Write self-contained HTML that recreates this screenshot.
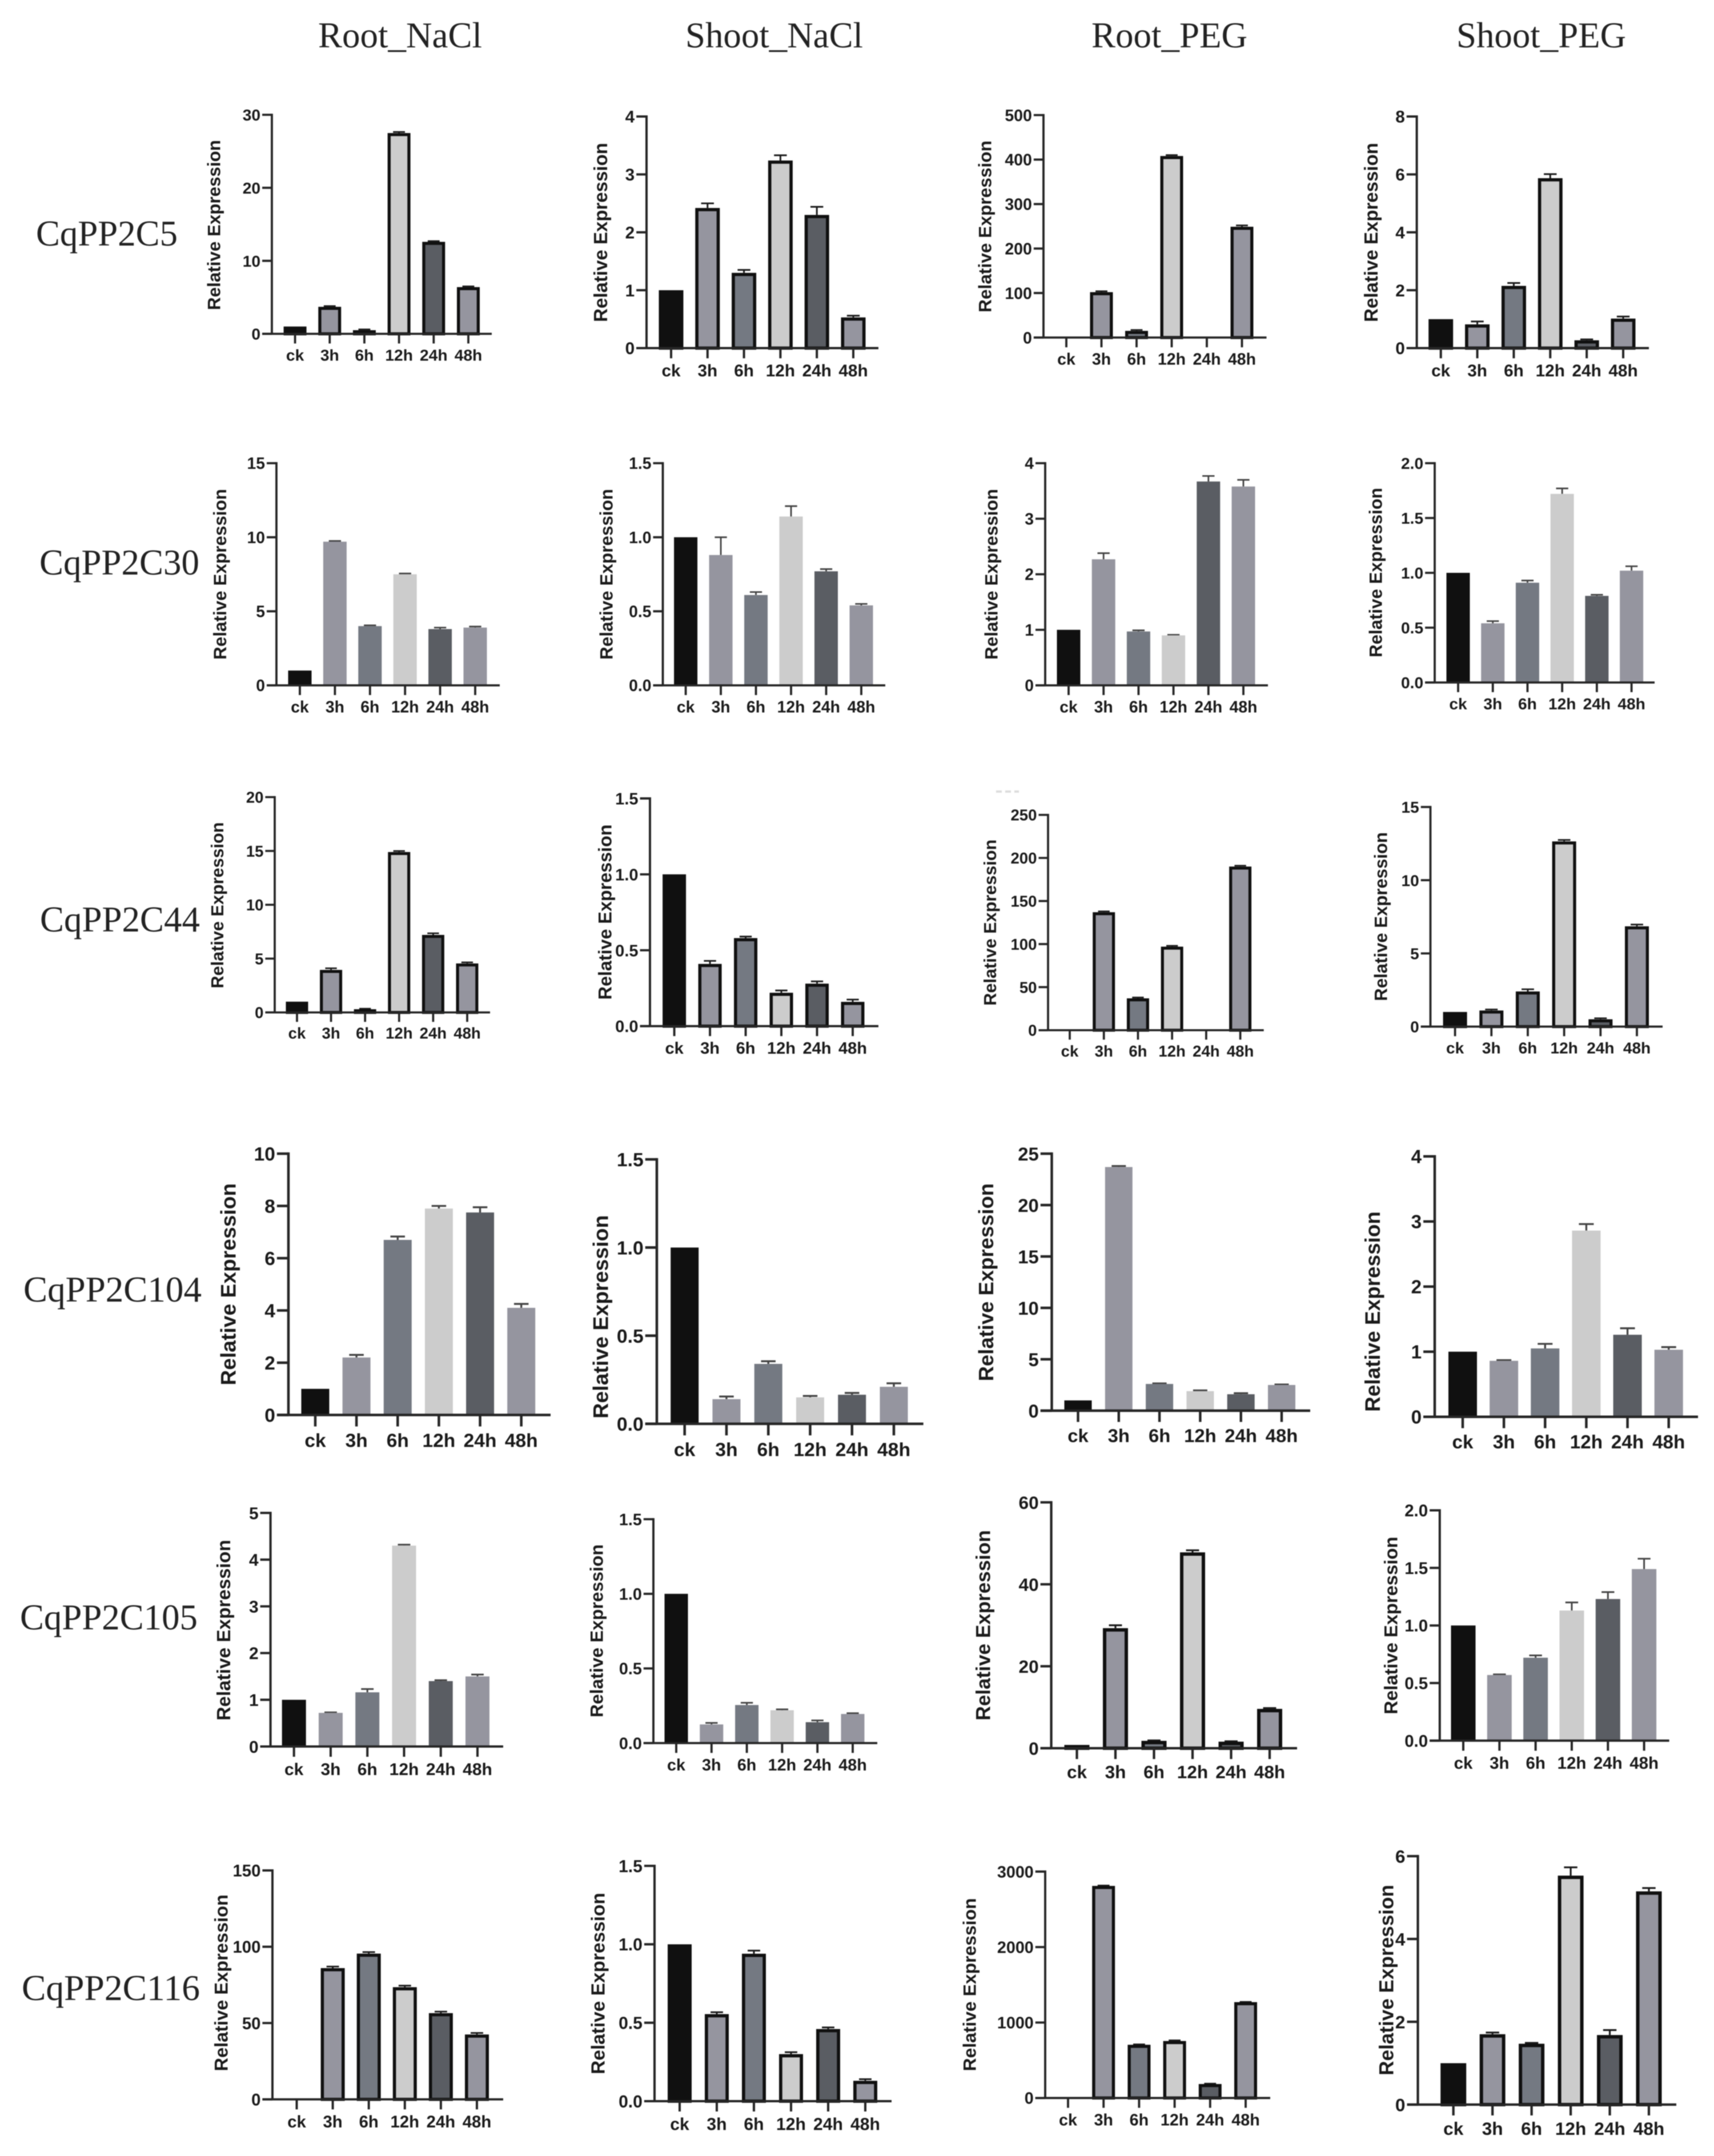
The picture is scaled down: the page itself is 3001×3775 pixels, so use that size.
<!DOCTYPE html>
<html lang="en">
<head>
<meta charset="utf-8">
<title>CqPP2C relative expression charts</title>
<style>
  html, body { margin: 0; padding: 0; background: #fff; }
  body { width: 3001px; height: 3775px; overflow: hidden; }
  svg { display: block; filter: blur(0.9px); }
  .title { font-family: "Liberation Serif", serif; font-size: 63px; fill: #222; }
  .gene { font-family: "Liberation Serif", serif; font-size: 63px; fill: #222; }
  .sans { font-family: "Liberation Sans", sans-serif; font-weight: bold; fill: #1a1a1a; }
</style>
</head>
<body>
<svg id="figure" xmlns="http://www.w3.org/2000/svg" width="3001" height="3775" viewBox="0 0 3001 3775">
  <rect width="3001" height="3775" fill="#ffffff"/>
  <line x1="1744" y1="1386" x2="1784" y2="1386" stroke="#dddddd" stroke-width="4" stroke-dasharray="10 6"/>
  <text class="title" x="557" y="83" textLength="287" lengthAdjust="spacingAndGlyphs">Root_NaCl</text>
  <text class="title" x="1200" y="83" textLength="311" lengthAdjust="spacingAndGlyphs">Shoot_NaCl</text>
  <text class="title" x="1911" y="83" textLength="273" lengthAdjust="spacingAndGlyphs">Root_PEG</text>
  <text class="title" x="2550" y="83" textLength="297" lengthAdjust="spacingAndGlyphs">Shoot_PEG</text>
  <text class="gene" x="63" y="430" textLength="248" lengthAdjust="spacingAndGlyphs">CqPP2C5</text>
  <text class="gene" x="69" y="1006" textLength="280" lengthAdjust="spacingAndGlyphs">CqPP2C30</text>
  <text class="gene" x="70" y="1631" textLength="280" lengthAdjust="spacingAndGlyphs">CqPP2C44</text>
  <text class="gene" x="41" y="2279" textLength="312" lengthAdjust="spacingAndGlyphs">CqPP2C104</text>
  <text class="gene" x="35" y="2853" textLength="311" lengthAdjust="spacingAndGlyphs">CqPP2C105</text>
  <text class="gene" x="38" y="3502" textLength="312" lengthAdjust="spacingAndGlyphs">CqPP2C116</text>
</svg>
<script>
// ---------- shared categories ----------
const categories = ['ck', '3h', '6h', '12h', '24h', '48h'];
const axisTitle = 'Relative Expression';

// ---------- tick labels ----------
const ticksRootNaClC5 = ['0', '10', '20', '30'];
const ticksShootNaClC5 = ['0', '1', '2', '3', '4'];
const ticksRootPegC5 = ['0', '100', '200', '300', '400', '500'];
const ticksShootPegC5 = ['0', '2', '4', '6', '8'];
const ticksRootNaClC30 = ['0', '5', '10', '15'];
const ticksShootNaClC30 = ['0.0', '0.5', '1.0', '1.5'];
const ticksRootPegC30 = ['0', '1', '2', '3', '4'];
const ticksShootPegC30 = ['0.0', '0.5', '1.0', '1.5', '2.0'];
const ticksRootNaClC44 = ['0', '5', '10', '15', '20'];
const ticksShootNaClC44 = ['0.0', '0.5', '1.0', '1.5'];
const ticksRootPegC44 = ['0', '50', '100', '150', '200', '250'];
const ticksShootPegC44 = ['0', '5', '10', '15'];
const ticksRootNaClC104 = ['0', '2', '4', '6', '8', '10'];
const ticksShootNaClC104 = ['0.0', '0.5', '1.0', '1.5'];
const ticksRootPegC104 = ['0', '5', '10', '15', '20', '25'];
const ticksShootPegC104 = ['0', '1', '2', '3', '4'];
const ticksRootNaClC105 = ['0', '1', '2', '3', '4', '5'];
const ticksShootNaClC105 = ['0.0', '0.5', '1.0', '1.5'];
const ticksRootPegC105 = ['0', '20', '40', '60'];
const ticksShootPegC105 = ['0.0', '0.5', '1.0', '1.5', '2.0'];
const ticksRootNaClC116 = ['0', '50', '100', '150'];
const ticksShootNaClC116 = ['0.0', '0.5', '1.0', '1.5'];
const ticksRootPegC116 = ['0', '1000', '2000', '3000'];
const ticksShootPegC116 = ['0', '2', '4', '6'];

// ---------- series values ----------
const rootNaClC5 = [1, 3.7, 0.5, 27.5, 12.6, 6.4];
const rootNaClC5Err = [0, 0.1, 0.1, 0.15, 0.1, 0.1];
const shootNaClC5 = [1, 2.42, 1.3, 3.24, 2.3, 0.53];
const shootNaClC5Err = [0, 0.08, 0.05, 0.09, 0.14, 0.03];
const rootPegC5 = [1, 102, 15, 408, 1, 249];
const rootPegC5Err = [0, 2, 2, 2, 0, 3];
const shootPegC5 = [1, 0.82, 2.15, 5.87, 0.27, 1.02];
const shootPegC5Err = [0, 0.1, 0.1, 0.14, 0.03, 0.07];

const rootNaClC30 = [1, 9.7, 4, 7.5, 3.8, 3.9];
const rootNaClC30Err = [0, 0.05, 0.05, 0.05, 0.1, 0.07];
const shootNaClC30 = [1, 0.88, 0.61, 1.14, 0.77, 0.54];
const shootNaClC30Err = [0, 0.12, 0.02, 0.07, 0.015, 0.01];
const rootPegC30 = [1, 2.27, 0.97, 0.9, 3.67, 3.58];
const rootPegC30Err = [0, 0.11, 0.02, 0.01, 0.1, 0.12];
const shootPegC30 = [1, 0.54, 0.91, 1.72, 0.79, 1.02];
const shootPegC30Err = [0, 0.02, 0.02, 0.05, 0.01, 0.04];

const rootNaClC44 = [1, 3.95, 0.3, 14.9, 7.2, 4.55];
const rootNaClC44Err = [0, 0.15, 0.05, 0.1, 0.15, 0.1];
const shootNaClC44 = [1, 0.41, 0.58, 0.22, 0.28, 0.16];
const shootNaClC44Err = [0, 0.02, 0.01, 0.015, 0.015, 0.015];
const rootPegC44 = [1, 137, 37, 97, 1, 190];
const rootPegC44Err = [0, 1, 1, 1, 0, 1];
const shootPegC44 = [1, 1.1, 2.4, 12.65, 0.5, 6.85];
const shootPegC44Err = [0, 0.07, 0.15, 0.1, 0.07, 0.12];

const rootNaClC104 = [1, 2.2, 6.7, 7.9, 7.75, 4.1];
const rootNaClC104Err = [0, 0.1, 0.13, 0.1, 0.2, 0.15];
const shootNaClC104 = [1, 0.14, 0.34, 0.15, 0.165, 0.21];
const shootNaClC104Err = [0, 0.015, 0.015, 0.008, 0.01, 0.02];
const rootPegC104 = [1, 23.7, 2.6, 1.9, 1.6, 2.5];
const rootPegC104Err = [0, 0.1, 0.05, 0.07, 0.1, 0.05];
const shootPegC104 = [1, 0.86, 1.05, 2.86, 1.26, 1.03];
const shootPegC104Err = [0, 0.01, 0.07, 0.1, 0.1, 0.04];

const rootNaClC105 = [1, 0.72, 1.16, 4.3, 1.4, 1.5];
const rootNaClC105Err = [0, 0.01, 0.07, 0.02, 0.02, 0.04];
const shootNaClC105 = [1, 0.125, 0.255, 0.22, 0.14, 0.195];
const shootNaClC105Err = [0, 0.01, 0.015, 0.006, 0.012, 0.005];
const rootPegC105 = [0.8, 29.3, 1.8, 47.8, 1.6, 9.6];
const rootPegC105Err = [0, 0.7, 0.1, 0.5, 0.1, 0.2];
const shootPegC105 = [1, 0.57, 0.72, 1.13, 1.23, 1.49];
const shootPegC105Err = [0, 0.005, 0.02, 0.07, 0.06, 0.09];

const rootNaClC116 = [0.3, 86, 95.5, 73.5, 56.5, 42.5];
const rootNaClC116Err = [0, 1, 1, 1, 1, 1];
const shootNaClC116 = [1, 0.555, 0.94, 0.3, 0.46, 0.13];
const shootNaClC116Err = [0, 0.012, 0.02, 0.012, 0.01, 0.01];
const rootPegC116 = [1, 2810, 705, 755, 185, 1270];
const rootPegC116Err = [0, 5, 5, 8, 5, 3];
const shootPegC116 = [1, 1.7, 1.47, 5.53, 1.68, 5.15];
const shootPegC116Err = [0, 0.04, 0.02, 0.2, 0.12, 0.08];

// ---------- styling ----------
const barFills = ['#101010', '#95959f', '#747982', '#cccccc', '#5a5d63', '#95959f'];

// ---------- panel frames (plot-area placement only) ----------
function frame(ax, top, y0, xEnd, c0, c5, bw, labelX, spanA, spanB, outlined) {
  return { ax, top, y0, xEnd, c0, c5, bw, labelX, spanA, spanB, outlined };
}

const panels = [
  { name: 'root-nacl-cqpp2c5', ticks: ticksRootNaClC5, values: rootNaClC5, errors: rootNaClC5Err, box: frame(476, 201, 584.5, 861, 516.6, 820, 40, 375, 245, 543, true) },
  { name: 'shoot-nacl-cqpp2c5', ticks: ticksShootNaClC5, values: shootNaClC5, errors: shootNaClC5Err, box: frame(1132, 204, 609.5, 1538, 1175, 1494, 43, 1052, 250, 564, true) },
  { name: 'root-peg-cqpp2c5', ticks: ticksRootPegC5, values: rootPegC5, errors: rootPegC5Err, box: frame(1827, 201.5, 591, 2217.5, 1867, 2174.5, 40, 1725, 246, 547, true) },
  { name: 'shoot-peg-cqpp2c5', ticks: ticksShootPegC5, values: shootPegC5, errors: shootPegC5Err, box: frame(2480.6, 204, 609.5, 2887, 2522.7, 2842, 43, 2401, 250, 564, true) },

  { name: 'root-nacl-cqpp2c30', ticks: ticksRootNaClC30, values: rootNaClC30, errors: rootNaClC30Err, box: frame(484, 811, 1200, 875, 525, 832, 41, 385.5, 856, 1155, false) },
  { name: 'shoot-nacl-cqpp2c30', ticks: ticksShootNaClC30, values: shootNaClC30, errors: shootNaClC30Err, box: frame(1160.5, 811, 1200, 1550, 1200.6, 1508, 41, 1062, 856, 1155, false) },
  { name: 'root-peg-cqpp2c30', ticks: ticksRootPegC30, values: rootPegC30, errors: rootPegC30Err, box: frame(1830, 811, 1200, 2220, 1871, 2177, 41, 1736, 856, 1155, false) },
  { name: 'shoot-peg-cqpp2c30', ticks: ticksShootPegC30, values: shootPegC30, errors: shootPegC30Err, box: frame(2512, 811, 1195, 2897, 2553, 2856.6, 41, 2409, 854, 1151, false) },

  { name: 'root-nacl-cqpp2c44', ticks: ticksRootNaClC44, values: rootNaClC44, errors: rootNaClC44Err, box: frame(481, 1395.7, 1772.7, 858, 520, 818, 39, 381, 1439.5, 1730.5, true) },
  { name: 'shoot-nacl-cqpp2c44', ticks: ticksShootNaClC44, values: shootNaClC44, errors: shootNaClC44Err, box: frame(1138, 1398, 1796.7, 1538, 1180.6, 1493, 41, 1060, 1443.5, 1750.4, true) },
  { name: 'root-peg-cqpp2c44', ticks: ticksRootPegC44, values: rootPegC44, errors: rootPegC44Err, box: frame(1835, 1426.8, 1803.8, 2212.7, 1873, 2171.6, 39, 1734, 1469.8, 1760.8, true) },
  { name: 'shoot-peg-cqpp2c44', ticks: ticksShootPegC44, values: shootPegC44, errors: shootPegC44Err, box: frame(2504.5, 1413, 1797.5, 2911, 2547.6, 2866, 42, 2418, 1457, 1752.8, true) },

  { name: 'root-nacl-cqpp2c104', ticks: ticksRootNaClC104, values: rootNaClC104, errors: rootNaClC104Err, box: frame(505, 2020, 2477.5, 964, 552, 912.7, 49, 400, 2071.7, 2425.7, false) },
  { name: 'shoot-nacl-cqpp2c104', ticks: ticksShootNaClC104, values: shootNaClC104, errors: shootNaClC104Err, box: frame(1150, 2030, 2493, 1616.7, 1198.7, 1565, 49, 1052, 2127.5, 2483.8, false) },
  { name: 'root-peg-cqpp2c104', ticks: ticksRootPegC104, values: rootPegC104, errors: rootPegC104Err, box: frame(1841.5, 2020, 2470, 2294, 1887.5, 2244, 48, 1727, 2071.7, 2418.5, false) },
  { name: 'shoot-peg-cqpp2c104', ticks: ticksShootPegC104, values: shootPegC104, errors: shootPegC104Err, box: frame(2512, 2024.7, 2480.7, 2973, 2561, 2921.7, 50, 2404, 2121, 2472, false) },

  { name: 'root-nacl-cqpp2c105', ticks: ticksRootNaClC105, values: rootNaClC105, errors: rootNaClC105Err, box: frame(473.6, 2649, 3058, 881, 514.7, 836, 42, 392, 2696, 3012.5, false) },
  { name: 'shoot-nacl-cqpp2c105', ticks: ticksShootNaClC105, values: shootNaClC105, errors: shootNaClC105Err, box: frame(1144, 2660, 3052, 1536, 1184, 1493, 41, 1045, 2704, 3007, false) },
  { name: 'root-peg-cqpp2c105', ticks: ticksRootPegC105, values: rootPegC105, errors: rootPegC105Err, box: frame(1840.6, 2630.5, 3061, 2271, 1885.5, 2223, 44, 1722, 2679, 3012.5, true) },
  { name: 'shoot-peg-cqpp2c105', ticks: ticksShootPegC105, values: shootPegC105, errors: shootPegC105Err, box: frame(2520.8, 2644.5, 3047.7, 2922.6, 2562, 2878.6, 43, 2435.6, 2690.6, 3001.6, false) },

  { name: 'root-nacl-cqpp2c116', ticks: ticksRootNaClC116, values: rootNaClC116, errors: rootNaClC116Err, box: frame(477, 3275, 3675.8, 881, 519.5, 835, 42, 387.5, 3317, 3626.6, true) },
  { name: 'shoot-nacl-cqpp2c116', ticks: ticksShootNaClC116, values: shootNaClC116, errors: shootNaClC116Err, box: frame(1146, 3267, 3679, 1561, 1190, 1515, 42, 1047.5, 3314, 3632, true) },
  { name: 'root-peg-cqpp2c116', ticks: ticksRootPegC116, values: rootPegC116, errors: rootPegC116Err, box: frame(1830, 3277, 3673.4, 2224, 1870, 2181, 40, 1698, 3323.4, 3626.6, true) },
  { name: 'shoot-peg-cqpp2c116', ticks: ticksShootPegC116, values: shootPegC116, errors: shootPegC116Err, box: frame(2482.5, 3250, 3685, 2935, 2544.7, 2887, 45, 2428, 3300, 3634, true) }
];

// ---------- drawing ----------
const svgNS = 'http://www.w3.org/2000/svg';
const figure = document.getElementById('figure');

function make(tag, attrs, parent) {
  const node = document.createElementNS(svgNS, tag);
  for (const key in attrs) node.setAttribute(key, attrs[key]);
  parent.appendChild(node);
  return node;
}

function drawPanel(panel) {
  const b = panel.box;
  const labelFont = (b.spanB - b.spanA) / 9.504;
  const tickFont = labelFont * 0.9;
  const tickLen = tickFont * 0.6;
  const axisWidth = tickFont * 0.135;
  const outlineWidth = tickFont * 0.19;
  const ink = '#262626';

  const domainMin = parseFloat(panel.ticks[0]);
  const domainMax = parseFloat(panel.ticks[panel.ticks.length - 1]);
  const yScale = v => b.y0 - (v - domainMin) / (domainMax - domainMin) * (b.y0 - b.top);
  const xScale = i => b.c0 + i * (b.c5 - b.c0) / (categories.length - 1);

  const g = make('g', {}, figure);
  
  

  // error bars first, so bars overlap their stems
  panel.errors.forEach((err, i) => {
    if (err <= 0) return;
    const cx = xScale(i);
    const yTop = yScale(panel.values[i] + err);
    const yBase = yScale(panel.values[i]);
    const capHalf = b.bw * 0.26;
    const stem = make('path', {
      d: 'M' + cx + ' ' + yBase + 'V' + yTop + 'M' + (cx - capHalf) + ' ' + yTop + 'H' + (cx + capHalf),
      fill: 'none',
      stroke: panel.box.outlined ? '#1a1a1a' : '#444',
      'stroke-width': tickFont * 0.1
    }, g);
    
    
  });

  // bars
  panel.values.forEach((value, i) => {
    const cx = xScale(i);
    const yTop = yScale(value);
    const inset = b.outlined ? outlineWidth / 2 : 0;
    const bar = make('rect', {
      x: cx - b.bw / 2 + inset,
      y: yTop + inset,
      width: b.bw - inset * 2,
      height: Math.max(b.y0 - yTop - inset, 0),
      fill: barFills[i],
      stroke: b.outlined ? '#101010' : 'none',
      'stroke-width': b.outlined ? outlineWidth : 0
    }, g);
    
    
  });

  // axes
  const yAxis = make('line', { x1: b.ax, x2: b.ax, y1: b.top - axisWidth / 2, y2: b.y0, stroke: ink, 'stroke-width': axisWidth }, g);
  
  

  const xAxis = make('line', { x1: b.ax - tickLen, x2: b.xEnd, y1: b.y0, y2: b.y0, stroke: ink, 'stroke-width': axisWidth }, g);
  
  

  // y ticks
  panel.ticks.forEach(label => {
    const y = yScale(parseFloat(label));
    const tick = make('line', { x1: b.ax - tickLen, x2: b.ax, y1: y, y2: y, stroke: ink, 'stroke-width': axisWidth }, g);
    
    
    const text = make('text', { x: b.ax - tickLen - 3, y: y + tickFont * 0.36, 'text-anchor': 'end', class: 'sans', 'font-size': tickFont }, g);
    text.textContent = label;
    
    
  });

  // x ticks
  categories.forEach((label, i) => {
    const x = xScale(i);
    const tick = make('line', { x1: x, x2: x, y1: b.y0, y2: b.y0 + tickLen, stroke: ink, 'stroke-width': axisWidth }, g);
    
    
    const text = make('text', { x: x, y: b.y0 + tickFont * 1.31 + tickFont * 0.36, 'text-anchor': 'middle', class: 'sans', 'font-size': tickFont * 1.0 }, g);
    text.textContent = label;
    
    
  });

  // y axis title
  const midY = (b.spanA + b.spanB) / 2;
  const title = make('text', {
    x: 0, y: 0, 'text-anchor': 'middle', class: 'sans', 'font-size': labelFont,
    transform: 'translate(' + (b.labelX + labelFont * 0.33) + ' ' + midY + ') rotate(-90)'
  }, g);
  title.textContent = axisTitle;
  
  
}

panels.forEach(drawPanel);
</script>
</body>
</html>
